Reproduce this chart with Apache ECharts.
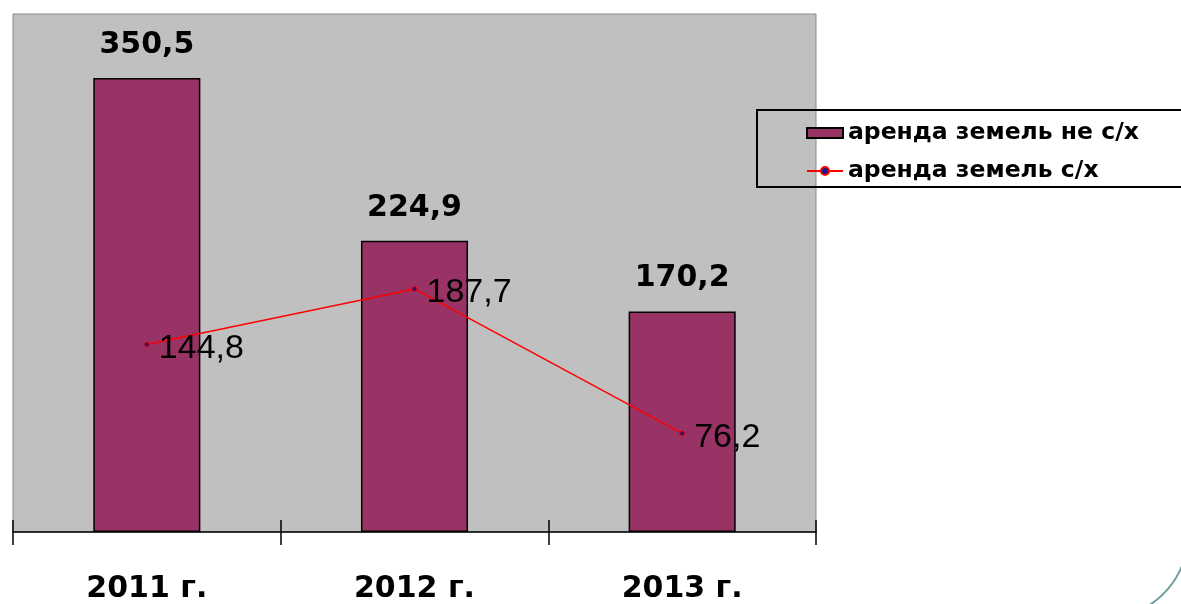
<!DOCTYPE html>
<html>
<head>
<meta charset="utf-8">
<script src="https://cdn.jsdelivr.net/npm/echarts@6/dist/echarts.min.js"></script>
<style>
  html, body { margin: 0; padding: 0; background: #fff; }
  #chart { width: 1181px; height: 604px; }
</style>
</head>
<body>
<div id="chart"></div>
<script>
const years = ['2011 г.', '2012 г.', '2013 г.']
const nonAgri = [350.5, 224.9, 170.2]
const agri = [144.8, 187.7, 76.2]
const nameNonAgri = 'аренда земель не с/х'
const nameAgri = 'аренда земель с/х'

const fmt = p => String(p.value).replace('.', ',')

const chart = echarts.init(document.getElementById('chart'))

const option = {
  animation: false,
  backgroundColor: '#fff',
  grid: {
    left: 13,
    right: 365,
    top: 14,
    bottom: 72,
    show: true,
    backgroundColor: '#c0c0c0',
    borderColor: '#8a8a8a',
    borderWidth: 1,
  },
  legend: {
    orient: 'vertical',
    left: 801,
    top: 116,
    itemWidth: 36,
    itemHeight: 10,
    itemGap: 14,
    textStyle: {
      fontFamily: 'DejaVu Sans',
      fontWeight: 'bold',
      fontSize: 23.5,
      color: '#000',
    },
    data: [
      { name: nameNonAgri, icon: 'rect' },
      { name: nameAgri },
    ],
  },
  graphic: [
    {
      type: 'rect',
      shape: { x: 757, y: 110, width: 440, height: 77 },
      style: { fill: 'none', stroke: '#000', lineWidth: 2 },
      z: 100,
    },
    {
      type: 'arc',
      shape: { cx: 1105, cy: 535, r: 83, startAngle: 0.3, endAngle: 1.1 },
      style: { fill: 'none', stroke: '#6f9c9c', lineWidth: 2 },
    },
  ],
  xAxis: [
    {
      type: 'category',
      data: years,
      axisLine: { lineStyle: { color: '#000', width: 1.5 } },
      axisTick: { show: true, length: 13, lineStyle: { color: '#000', width: 1.5 } },
      axisLabel: {
        margin: 42,
        fontFamily: 'DejaVu Sans',
        fontWeight: 'bold',
        fontSize: 30,
        color: '#000',
      },
    },
    {
      type: 'category',
      data: years,
      position: 'bottom',
      axisLine: { show: false },
      axisTick: { show: true, inside: true, length: 12, lineStyle: { color: '#000', width: 1.5 } },
      axisLabel: { show: false },
    },
  ],
  yAxis: {
    type: 'value',
    min: 0,
    max: 400,
    show: false,
    splitLine: { show: false },
  },
  series: [
    {
      name: nameNonAgri,
      type: 'bar',
      data: nonAgri,
      barWidth: '40%',
      itemStyle: { color: '#993366', borderColor: '#000', borderWidth: 1.5 },
      label: {
        show: true,
        position: 'top',
        distance: 18,
        formatter: fmt,
        fontFamily: 'DejaVu Sans',
        fontWeight: 'bold',
        fontSize: 30,
        color: '#000',
      },
    },
    {
      name: nameAgri,
      type: 'line',
      data: agri,
      color: '#ff0000',
      symbol: 'circle',
      symbolSize: 5,
      itemStyle: { color: '#1a1a80', borderColor: '#ff0000', borderWidth: 1 },
      lineStyle: { color: '#ff0000', width: 1.5 },
      label: {
        show: true,
        position: 'right',
        distance: 9,
        offset: [0, 4],
        formatter: fmt,
        fontFamily: 'Liberation Sans',
        fontSize: 34,
        color: '#000',
      },
      z: 5,
    },
  ],
}

chart.setOption(option)
</script>
</body>
</html>
